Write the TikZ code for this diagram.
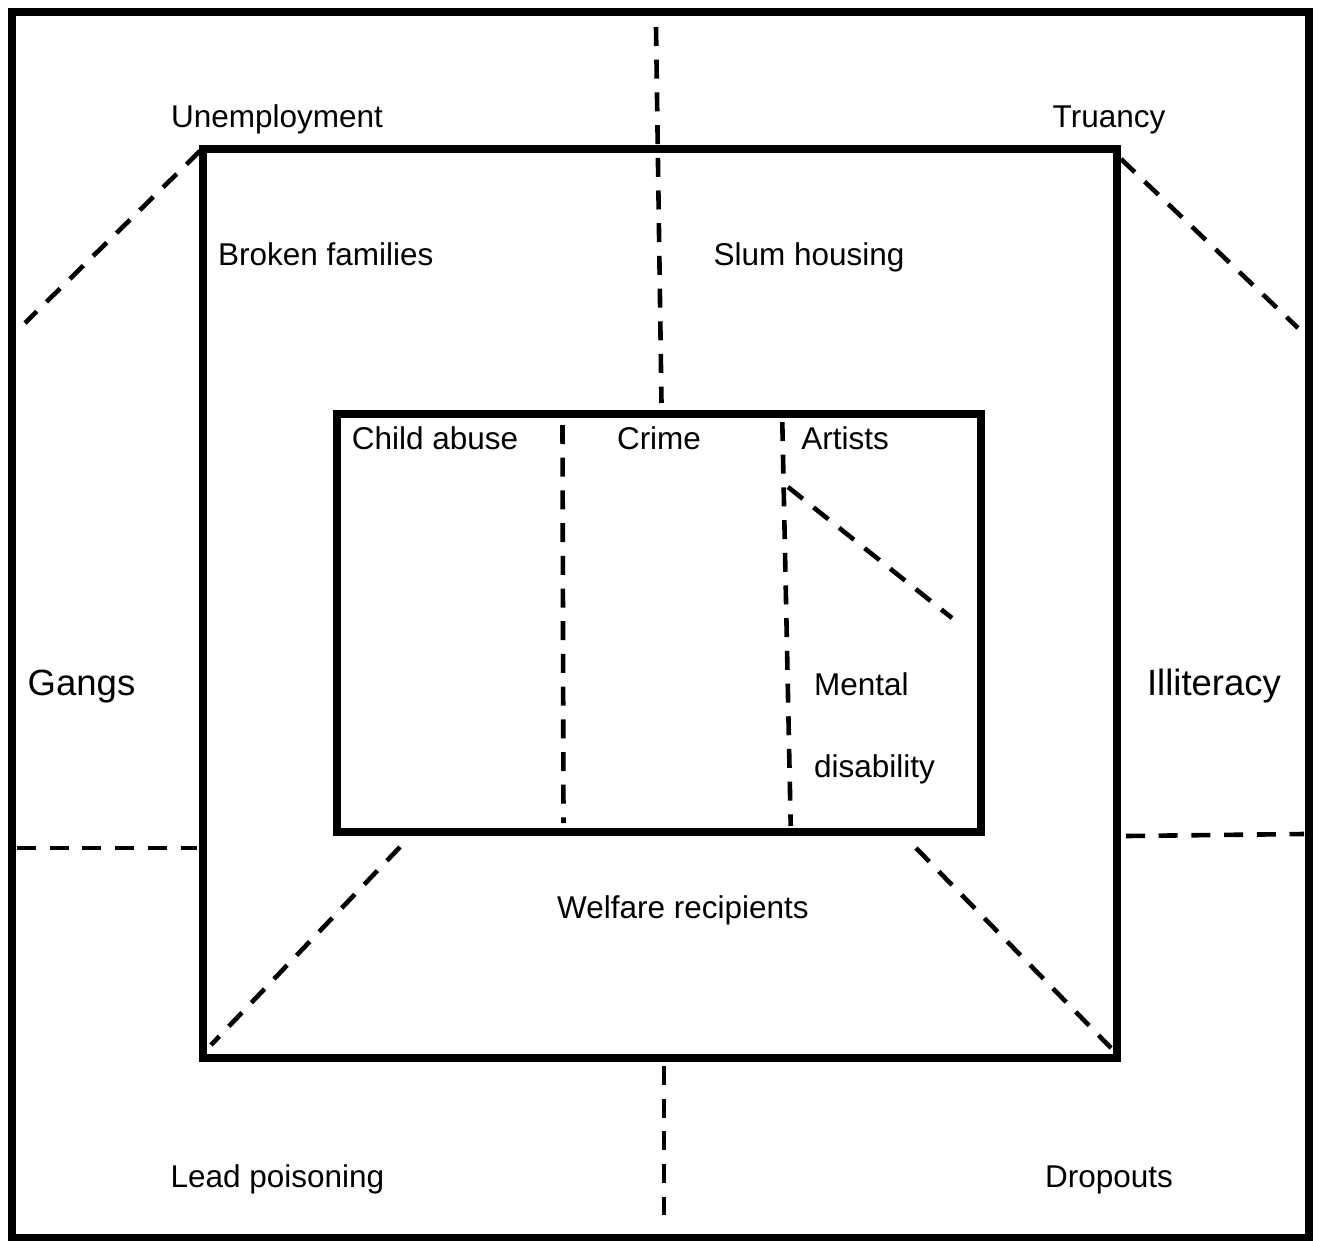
\documentclass[tikz,border=0pt]{standalone}
\usepackage{fontspec}
\setmainfont{Liberation Sans}
\usetikzlibrary{positioning}

\begin{document}
\begin{tikzpicture}[x=1pt, y=-1pt,
    box/.style={line width=8pt},
    divider/.style={line width=4.6pt, dash pattern=on 19pt off 13.7pt},
    lbl/.style={inner sep=0pt, anchor=base, font=\fontsize{31.5}{36}\selectfont},
    biglbl/.style={lbl, font=\fontsize{36.5}{42}\selectfont}]
    \useasboundingbox (0,0) rectangle (1320,1240);
    \coordinate (outnw) at (12,11.5);   \coordinate (outse) at (1309,1238);
    \coordinate (midnw) at (203,148.5); \coordinate (midse) at (1117,1057.5);
    \coordinate (innw) at (336.5,414);  \coordinate (inse) at (981,832);
    \draw[box] (outnw) rectangle (outse);
    \draw[box] (midnw) rectangle (midse);
    \draw[box] (innw) rectangle (inse);

    \coordinate (topa) at (656,27);     \coordinate (topb) at (661.5,403);
    \coordinate (bota) at (664,1066);   \coordinate (botb) at (664,1215);
    \coordinate (ula) at (200,151);     \coordinate (ulb) at (25,323);
    \coordinate (ura) at (1121,159);    \coordinate (urb) at (1298,328);
    \coordinate (lla) at (400,847);     \coordinate (llb) at (211,1045);
    \coordinate (lra) at (916,848);     \coordinate (lrb) at (1111,1048);
    \coordinate (la) at (17,848);       \coordinate (lb) at (197,848);
    \coordinate (ra) at (1126,836);     \coordinate (rb) at (1304,834);
    \coordinate (cola) at (562.5,425);  \coordinate (colb) at (563.5,823);
    \coordinate (colc) at (782.3,422);  \coordinate (cold) at (790.7,826);
    \coordinate (diaga) at (788,487);   \coordinate (diagb) at (952,618);
    \draw[divider] (topa) -- (topb);
    \draw[divider] (bota) -- (botb);
    \draw[divider] (ula) -- (ulb);
    \draw[divider] (ura) -- (urb);
    \draw[divider] (lla) -- (llb);
    \draw[divider] (lra) -- (lrb);
    \draw[divider] (la) -- (lb);
    \draw[divider] (ra) -- (rb);
    \draw[divider] (cola) -- (colb);
    \draw[divider] (colc) -- (cold);
    \draw[divider] (diaga) -- (diagb);

    \node[lbl] (unemp) at (277,127) {Unemployment};
    \node[lbl] (truancy) at (1109,127) {Truancy};
    \node[lbl, anchor=base west] (broken) at (218,265) {Broken families};
    \node[lbl] (slum) at (809,265) {Slum housing};
    \node[lbl] (abuse) at (435,449) {Child abuse};
    \node[lbl] (crime) at (659,449) {Crime};
    \node[lbl] (artists) at (845,449) {Artists};
    \node[biglbl] (gangs) at (81.5,695) {Gangs};
    \node[biglbl] (illit) at (1214,695) {Illiteracy};
    \node[lbl, anchor=base west] (mental) at (814,695) {Mental};
    \node[lbl, anchor=base west] (disab) at (814,777) {disability};
    \node[lbl] (welfare) at (683,918) {Welfare recipients};
    \node[lbl] (lead) at (277.5,1187) {Lead poisoning};
    \node[lbl] (dropouts) at (1109,1187) {Dropouts};
\end{tikzpicture}
\end{document}
